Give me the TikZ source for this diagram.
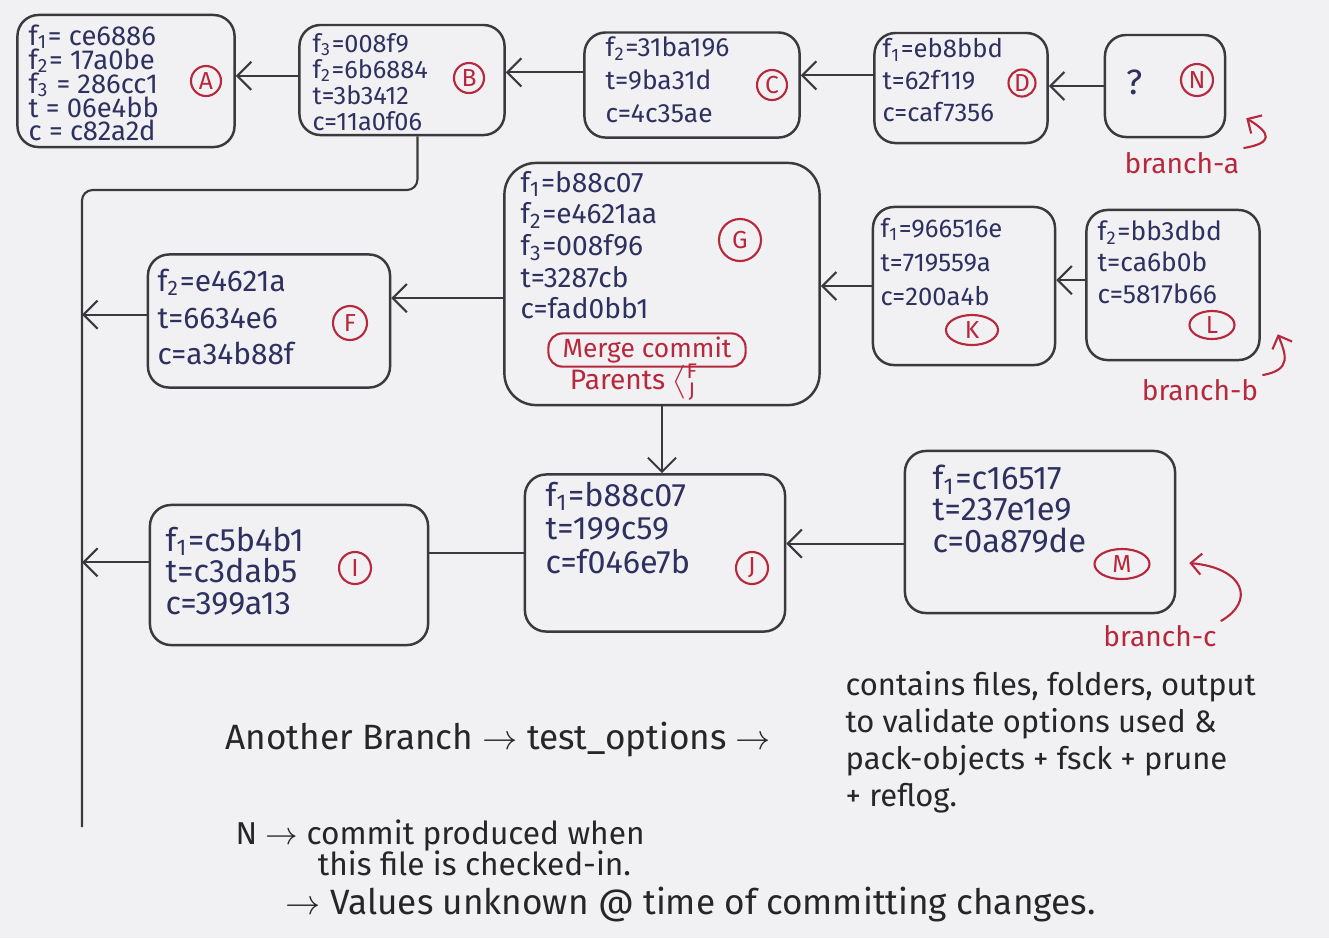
\documentclass[tikz,border=0pt]{standalone}
\usepackage{amsmath}
\usepackage{fontspec}
\setmainfont{Fira Sans}
\usetikzlibrary{arrows.meta,shapes.geometric,calc}
\definecolor{ink}{HTML}{2E3160}
\definecolor{redink}{HTML}{B8283C}
\definecolor{pencil}{HTML}{3A3A3E}
\definecolor{paper}{HTML}{F1F1F3}

\begin{document}
\begin{tikzpicture}[
  x=0.01cm, y=-0.01cm,
  commit/.style={draw=pencil,line width=0.7pt,rounded corners=6pt,inner sep=0pt},
  hashes/.style 2 args={anchor=west,align=left,text=ink,inner sep=0pt,font={\fontsize{#1}{#2}\selectfont\lineskiplimit=-5pt}},
  tag/.style={circle,draw=redink,text=redink,line width=0.6pt,inner sep=0pt,minimum size=0.3cm,font=\fontsize{7}{7}\selectfont},
  ovaltag/.style={ellipse,draw=redink,text=redink,line width=0.6pt,inner sep=0pt,minimum width=0.52cm,minimum height=0.3cm,font=\fontsize{7}{7}\selectfont},
  flow/.style={draw=pencil,line width=0.6pt,-{Straight Barb[length=4pt,width=8pt]}},
  branchlabel/.style={text=redink,inner sep=1pt,font=\fontsize{8}{8}\selectfont},
  branchflow/.style={draw=redink,line width=0.6pt,-{Straight Barb[length=3pt,width=6pt]}},
  note/.style={anchor=west,align=left,text=black!85,inner sep=0pt,font={\fontsize{10}{10.5}\selectfont\lineskiplimit=-5pt}}
]
\useasboundingbox (0,0) rectangle (1329,938);
\fill[paper] (0,0) rectangle (1329,938);

% --- top row: branch-a ---
\node[commit,minimum width=2.17cm,minimum height=1.32cm] (A) at (126,81) {};
\node[hashes={7.8}{6.8}] (A-txt) at (28,83) {f\textsubscript{1}= ce6886\\ f\textsubscript{2}= 17a0be\\ f\textsubscript{3} = 286cc1\\ t = 06e4bb\\ c = c82a2d};
\node[tag] (A-tag) at (206,81) {A};

\node[commit,minimum width=2.05cm,minimum height=1.10cm] (B) at (402,80) {};
\node[hashes={7.2}{7.4}] (B-txt) at (312,82) {f\textsubscript{3}=008f9\\ f\textsubscript{2}=6b6884\\ t=3b3412\\ c=11a0f06};
\node[tag] (B-tag) at (469,78) {B};

\node[commit,minimum width=2.15cm,minimum height=1.05cm] (C) at (692,85) {};
\node[hashes={7.5}{9.4}] (C-txt) at (605,80) {f\textsubscript{2}=31ba196\\ t=9ba31d\\ c=4c35ae};
\node[tag] (C-tag) at (772,85) {C};

\node[commit,minimum width=1.73cm,minimum height=1.10cm] (D) at (961,88) {};
\node[hashes={7.3}{9.1}] (D-txt) at (882,80) {f\textsubscript{1}=eb8bbd\\ t=62f119\\ c=caf7356};
\node[tag,minimum size=0.27cm] (D-tag) at (1022,83) {D};

\node[commit,minimum width=1.20cm,minimum height=1.02cm] (N) at (1165,86) {};
\node[text=ink,font=\fontsize{10}{10}\selectfont] (N-txt) at (1135,82) {?};
\node[tag,minimum size=0.32cm] (N-tag) at (1197,80) {N};

% --- middle row: merge + branch-b ---
\node[commit,rounded corners=9pt,minimum width=3.15cm,minimum height=2.42cm] (G) at (662,284) {};
\node[hashes={8}{9}] (G-txt) at (520,245) {f\textsubscript{1}=b88c07\\ f\textsubscript{2}=e4621aa\\ f\textsubscript{3}=008f96\\ t=3287cb\\ c=fad0bb1};
\node[tag,minimum size=0.42cm] (G-tag) at (740,240) {G};
\node[draw=redink,text=redink,rounded corners=4pt,line width=0.6pt,inner ysep=1pt,inner xsep=4pt,font=\fontsize{7.5}{7.5}\selectfont] (merge) at (647,350) {Merge commit};
\node[text=redink,inner sep=0pt,font=\fontsize{8}{8}\selectfont] (parents) at (636,382) {Parents $\big\langle\!\begin{smallmatrix}\mathrm{F}\\ \mathrm{J}\end{smallmatrix}$};

\node[commit,minimum width=2.42cm,minimum height=1.33cm] (F) at (269,321) {};
\node[hashes={8.5}{10.5}] (F-txt) at (157,317) {f\textsubscript{2}=e4621a\\ t=6634e6\\ c=a34b88f};
\node[tag,minimum size=0.34cm] (F-tag) at (350,323) {F};

\node[commit,minimum width=1.82cm,minimum height=1.58cm] (K) at (964,286) {};
\node[hashes={7.3}{9.8}] (K-txt) at (880,262) {f\textsubscript{1}=966516e\\ t=719559a\\ c=200a4b};
\node[ovaltag] (K-tag) at (972,330) {K};

\node[commit,minimum width=1.73cm,minimum height=1.50cm] (L) at (1173,285) {};
\node[hashes={7.5}{9}] (L-txt) at (1097,262) {f\textsubscript{2}=bb3dbd\\ t=ca6b0b\\ c=5817b66};
\node[ovaltag,minimum width=0.45cm,minimum height=0.28cm] (L-tag) at (1212,325) {L};

% --- bottom row: branch-c ---
\node[commit,minimum width=2.60cm,minimum height=1.57cm] (J) at (655,553) {};
\node[hashes={9.2}{9.5}] (J-txt) at (545,528) {f\textsubscript{1}=b88c07\\ t=199c59\\ c=f046e7b};
\node[tag,minimum size=0.32cm] (J-tag) at (752,568) {J};

\node[commit,minimum width=2.78cm,minimum height=1.40cm] (I) at (289,575) {};
\node[hashes={9.2}{8.9}] (I-txt) at (165,571) {f\textsubscript{1}=c5b4b1\\ t=c3dab5\\ c=399a13};
\node[tag,minimum size=0.32cm] (I-tag) at (355,568) {I};

\node[commit,minimum width=2.70cm,minimum height=1.62cm] (M) at (1040,532) {};
\node[hashes={9.3}{8.9}] (M-txt) at (932,509) {f\textsubscript{1}=c16517\\ t=237e1e9\\ c=0a879de};
\node[ovaltag,minimum width=0.55cm] (M-tag) at (1122,564) {M};

% --- branch labels ---
\node[branchlabel] (brA) at (1182,163) {branch-a};
\node[branchlabel] (brB) at (1200,390) {branch-b};
\node[branchlabel] (brC) at (1160,636) {branch-c};

% --- connectors ---
\coordinate (trunk-top) at (82,190);
\coordinate (trunk-end) at (82,827);
\draw[flow] (N.west) -- (N.west -| D.east);
\draw[flow] ([yshift=3.6pt]D.west) -- ([yshift=3.6pt]D.west -| C.east);
\draw[flow] ([yshift=3.6pt]C.west) -- ([yshift=3.6pt]C.west -| B.east);
\draw[flow] ([yshift=1.2pt]B.west) -- ([yshift=1.2pt]B.west -| A.east);
\draw[pencil,line width=0.6pt,rounded corners=3pt] ([xshift=4.4pt]B.south) |- (trunk-top) -- (trunk-end);
\draw[flow] ([yshift=1.8pt]F.west) -- ([yshift=1.8pt]F.west -| trunk-top);
\draw[flow] ([yshift=3.6pt]I.west) -- ([yshift=3.6pt]I.west -| trunk-top);
\draw[flow] ([yshift=-4pt]G.west) -- ([yshift=-4pt]G.west -| F.east);
\draw[flow] (K.west) -- (K.west -| G.east);
\draw[flow] ([yshift=1.4pt]L.west) -- ([yshift=1.4pt]L.west -| K.east);
\draw[flow] (G.south) -- (G.south |- J.north);
\draw[pencil,line width=0.6pt] (J.west) -- (J.west -| I.east);
\draw[flow] ([yshift=-3.3pt]M.west) -- ([yshift=-3.3pt]M.west -| J.east);

% --- branch pointers ---
\draw[branchflow] (brA.north east) .. controls +(30,-5) and +(25,15) .. ([shift={(20,-20)}]N.south east);
\draw[branchflow] (brB.north east) .. controls +(30,-5) and +(8,20) .. ([shift={(17,-27)}]L.south east);
\draw[branchflow] (brC.north east) .. controls +(35,-20) and +(55,5) .. ([shift={(13,31)}]M.east);

% --- notes ---
\node[note] (another) at (225,740) {Another Branch $\rightarrow$ test\_options $\rightarrow$};
\node[note,font={\fontsize{8.8}{10.5}\selectfont\lineskiplimit=-5pt}] (purpose) at (845,742) {contains files, folders, output\\ to validate options used \&\\ pack-objects + fsck + prune\\ + reflog.};
\node[note,font={\fontsize{9}{8.8}\selectfont\lineskiplimit=-5pt}] (nnote) at (235,848) {N $\rightarrow$ commit produced when\\ \hspace*{2.6em}this file is checked-in.};
\node[note] (values) at (285,905) {$\rightarrow$ Values unknown @ time of committing changes.};
\end{tikzpicture}
\end{document}
